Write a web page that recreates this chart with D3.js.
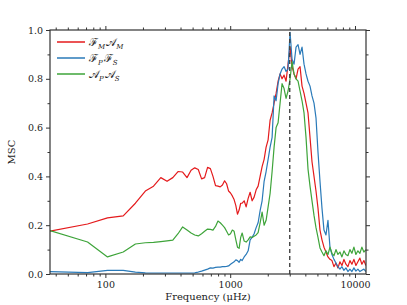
<!DOCTYPE html>
<html lang="en">
<head>
    <meta charset="UTF-8">
    <title>MSC</title>
    <script src="https://cdn.jsdelivr.net/npm/d3@7"></script>
</head>
<body>
<div id='chart'>
    <svg></svg>
</div>
</body>

<style>
    body {
        margin: 0;
        background: #fff;
    }

    text {
        font-family: 'DejaVu Serif', serif;
        fill: #222;
    }

    path.series {
        fill: none;
        stroke-width: 1.2px;
        stroke-linejoin: round;
    }
</style>

<script>
    // frequency grid (μHz) and the three coherence curves
    const freq = [36, 72, 104, 139, 174, 209, 243, 278, 312, 347, 382, 416, 451, 486, 520, 555, 590, 624,
        659, 694, 728, 763, 798, 832, 867, 902, 936, 971, 1006, 1040, 1075, 1110, 1144, 1179, 1214,
        1247, 1294, 1342, 1393, 1445, 1499, 1555, 1614, 1674, 1737, 1802, 1870, 1940, 2013, 2088, 2167,
        2248, 2332, 2420, 2510, 2604, 2702, 2803, 2908, 3018, 3131, 3248, 3370, 3497, 3628, 3764, 3905,
        4051, 4203, 4361, 4524, 4694, 4870, 5052, 5242, 5438, 5642, 5854, 6073, 6301, 6537, 6782, 7037,
        7300, 7574, 7858, 8153, 8459, 8776, 9105, 9446, 9800, 10168, 10549, 10945, 11355, 11781, 12223];

    const mscFM = [0.176, 0.205, 0.23, 0.238, 0.29, 0.34, 0.36, 0.395, 0.38, 0.395, 0.42, 0.418, 0.395, 0.425,
        0.435, 0.428, 0.39, 0.395, 0.437, 0.432, 0.40, 0.362, 0.36, 0.357, 0.365, 0.382, 0.37, 0.34, 0.332,
        0.32, 0.305, 0.28, 0.245, 0.262, 0.29,
        0.29, 0.30, 0.275, 0.31, 0.335, 0.30, 0.315, 0.345, 0.36, 0.40, 0.44, 0.47, 0.52, 0.55, 0.63, 0.66,
        0.70, 0.74, 0.79, 0.82, 0.80, 0.815, 0.79, 0.86, 0.93, 0.85, 0.82, 0.80, 0.84, 0.85, 0.77, 0.74,
        0.70, 0.66, 0.56, 0.46, 0.40, 0.34, 0.27, 0.18, 0.14, 0.11, 0.09, 0.07, 0.06, 0.055, 0.03, 0.045,
        0.025, 0.05, 0.035, 0.06, 0.04, 0.03, 0.055, 0.04, 0.06, 0.035, 0.05, 0.065, 0.04, 0.055, 0.035];

    const mscFP = [0.01, 0.006, 0.015, 0.015, 0.008, 0.005, 0.004, 0.004, 0.004, 0.004, 0.004, 0.004, 0.004, 0.004,
        0.005, 0.008, 0.012, 0.016, 0.02, 0.025, 0.024, 0.027, 0.028, 0.028, 0.03, 0.03, 0.031, 0.033, 0.04,
        0.045, 0.05, 0.058, 0.055, 0.048, 0.06,
        0.055, 0.07, 0.08, 0.095, 0.14, 0.15, 0.165, 0.19, 0.21, 0.26, 0.30, 0.38, 0.42, 0.47, 0.52, 0.56,
        0.73, 0.71, 0.78, 0.82, 0.84, 0.85, 0.83, 0.84, 0.99, 0.88, 0.86, 0.93, 0.94, 0.90, 0.93, 0.86,
        0.82, 0.79, 0.77, 0.73, 0.70, 0.64, 0.50, 0.38, 0.27, 0.18, 0.16, 0.22, 0.11, 0.08, 0.06, 0.045,
        0.03, 0.02, 0.03, 0.015, 0.025, 0.01, 0.02, 0.01, 0.025, 0.012, 0.02, 0.01, 0.015, 0.02, 0.01];

    const mscAP = [0.178, 0.131, 0.07, 0.09, 0.123, 0.128, 0.13, 0.133, 0.136, 0.139, 0.165, 0.193, 0.18, 0.168,
        0.16, 0.156, 0.165, 0.175, 0.184, 0.183, 0.18, 0.195, 0.217, 0.21, 0.2, 0.19, 0.175, 0.16, 0.165,
        0.18, 0.175, 0.14, 0.11, 0.105, 0.15,
        0.168, 0.135, 0.131, 0.14, 0.152, 0.15, 0.155, 0.16, 0.17, 0.21, 0.254, 0.20, 0.22, 0.275, 0.33, 0.42,
        0.52, 0.60, 0.62, 0.70, 0.78, 0.76, 0.72, 0.75, 0.80, 0.87, 0.82, 0.80, 0.79, 0.75, 0.71, 0.66,
        0.56, 0.43, 0.36, 0.30, 0.24, 0.19, 0.15, 0.107, 0.09, 0.075, 0.095, 0.08, 0.11, 0.085, 0.075, 0.10,
        0.08, 0.09, 0.07, 0.095, 0.08, 0.075, 0.10, 0.085, 0.11, 0.08, 0.095, 0.085, 0.11, 0.09, 0.10];

    const seriesNames = ['FM', 'FP', 'AP'];
    const seriesColors = ['#e41a1c', '#2a7ab9', '#3ea43a'];
    const legendMain = [['ℱ', '𝒜'], ['ℱ', 'ℱ'], ['𝒜', '𝒜']];
    const legendSub = [['M', 'M'], ['P', 'S'], ['P', 'S']];

    const numax = 3000;
    const yTicks = [0.0, 0.2, 0.4, 0.6, 0.8, 1.0];
    const xTickLabels = [100, 1000, 10000];

    const width = 407;
    const height = 305;
    const margin = {top: 30, right: 41, bottom: 31, left: 50};

    const svg = d3.select('svg')
        .attr('width', width)
        .attr('height', height);

    const x = d3.scaleLog()
        .domain([36, 12250])
        .range([margin.left, width - margin.right]);

    const y = d3.scaleLinear()
        .domain([0, 1])
        .range([height - margin.bottom, margin.top]);

    // minor ticks 2..9 per decade inside the domain
    const minorX = [];
    [10, 100, 1000, 10000].forEach(dec => {
        for (let k = 2; k <= 9; k++) {
            const v = dec * k;
            if (v >= 36 && v <= 12250) minorX.push(v);
        }
    });
    const minorY = [0.1, 0.3, 0.5, 0.7, 0.9];

    const axisColor = '#333';

    function styleAxis(sel) {
        sel.selectAll('.domain').remove();
        sel.selectAll('line').attr('stroke', axisColor).attr('stroke-width', 1);
        sel.selectAll('text').style('font-size', '9.5px').attr('fill', '#222');
    }

    // bottom
    svg.append('g')
        .attr('transform', `translate(0,${y(0)})`)
        .call(d3.axisBottom(x).tickValues(xTickLabels).tickFormat(d3.format('d')).tickSize(4).tickPadding(3))
        .call(styleAxis);
    svg.append('g')
        .attr('transform', `translate(0,${y(0)})`)
        .call(d3.axisBottom(x).tickValues(minorX).tickFormat('').tickSize(2.5))
        .call(styleAxis);
    // top
    svg.append('g')
        .attr('transform', `translate(0,${y(1)})`)
        .call(d3.axisTop(x).tickValues(xTickLabels).tickFormat('').tickSize(4))
        .call(styleAxis);
    svg.append('g')
        .attr('transform', `translate(0,${y(1)})`)
        .call(d3.axisTop(x).tickValues(minorX).tickFormat('').tickSize(2.5))
        .call(styleAxis);
    // left
    svg.append('g')
        .attr('transform', `translate(${x.range()[0]},0)`)
        .call(d3.axisLeft(y).tickValues(yTicks).tickFormat(d3.format('.1f')).tickSize(4).tickPadding(3))
        .call(styleAxis);
    svg.append('g')
        .attr('transform', `translate(${x.range()[0]},0)`)
        .call(d3.axisLeft(y).tickValues(minorY).tickFormat('').tickSize(2.5))
        .call(styleAxis);
    // right
    svg.append('g')
        .attr('transform', `translate(${x.range()[1]},0)`)
        .call(d3.axisRight(y).tickValues(yTicks).tickFormat('').tickSize(4))
        .call(styleAxis);
    svg.append('g')
        .attr('transform', `translate(${x.range()[1]},0)`)
        .call(d3.axisRight(y).tickValues(minorY).tickFormat('').tickSize(2.5))
        .call(styleAxis);

    // clip so curves stay in the frame
    svg.append('clipPath').attr('id', 'plot-clip')
        .append('rect')
        .attr('x', x.range()[0]).attr('y', y(1))
        .attr('width', x.range()[1] - x.range()[0])
        .attr('height', y(0) - y(1));

    const line = d3.line()
        .x(d => x(d[0]))
        .y(d => y(d[1]));

    const allSeries = [mscFM, mscFP, mscAP];
    const gLines = svg.append('g').attr('clip-path', 'url(#plot-clip)');
    allSeries.forEach((vals, i) => {
        gLines.append('path')
            .attr('class', 'series ' + seriesNames[i])
            .attr('stroke', seriesColors[i])
            .attr('d', line(freq.map((f, j) => [f, vals[j]])));
    });

    // numax marker
    svg.append('line')
        .attr('x1', x(numax)).attr('x2', x(numax))
        .attr('y1', y(0)).attr('y2', y(1))
        .attr('stroke', '#444')
        .attr('stroke-width', 1.4)
        .attr('stroke-dasharray', '4,3');

    // frame
    svg.append('rect')
        .attr('x', x.range()[0]).attr('y', y(1))
        .attr('width', x.range()[1] - x.range()[0])
        .attr('height', y(0) - y(1))
        .attr('fill', 'none')
        .attr('stroke', axisColor)
        .attr('stroke-width', 1.2);

    // legend
    const legend = svg.append('g').attr('transform', `translate(${x.range()[0] + 7},${y(1) + 12})`);
    seriesNames.forEach((n, i) => {
        const row = legend.append('g').attr('transform', `translate(0,${i * 16})`);
        row.append('line')
            .attr('x1', 0).attr('x2', 28)
            .attr('stroke', seriesColors[i])
            .attr('stroke-width', 1.5);
        const t = row.append('text')
            .attr('x', 32).attr('y', 4)
            .style('font-size', '11px');
        for (let k = 0; k < 2; k++) {
            t.append('tspan').text(legendMain[i][k]);
            t.append('tspan').attr('dy', 2.5).style('font-size', '7px').style('font-style', 'italic').text(legendSub[i][k]);
            t.append('tspan').attr('dy', -2.5).text('\u200a');
        }
    });

    // axis titles
    svg.append('text')
        .attr('x', (x.range()[0] + x.range()[1]) / 2)
        .attr('y', height - 5)
        .attr('text-anchor', 'middle')
        .style('font-size', '10px')
        .text('Frequency (μHz)');

    svg.append('text')
        .attr('transform', `translate(15,${(y(0) + y(1)) / 2}) rotate(-90)`)
        .attr('text-anchor', 'middle')
        .style('font-size', '10px')
        .text('MSC');
</script>
</html>
